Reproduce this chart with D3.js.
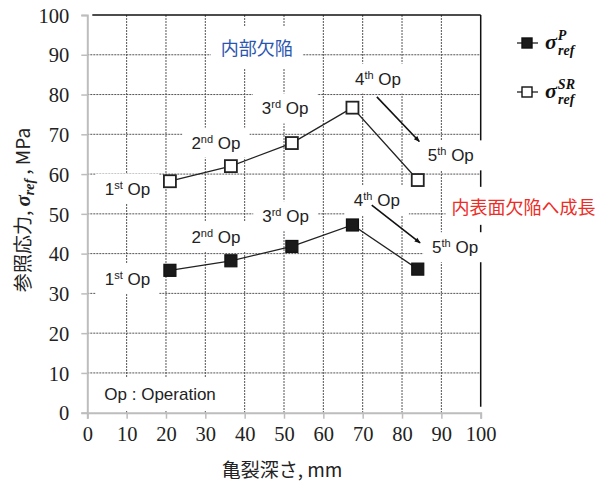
<!DOCTYPE html>
<html>
<head>
<meta charset="utf-8">
<script src="https://cdn.jsdelivr.net/npm/d3@7"></script>
<style>
  html, body { margin: 0; padding: 0; background: #fff; }
  svg { display: block; }
</style>
</head>
<body>
<svg id="chart" width="608" height="485"></svg>
<script>
// Crack depth (mm) at each operation and the two reference stresses (MPa)
const depth    = [21, 36.5, 52, 67.4, 84];
const sigmaP   = [35.8, 38.2, 41.8, 47.2, 36.1];
const sigmaSR  = [58.2, 62.0, 67.8, 76.7, 58.5];
const xTickValues = [0, 10, 20, 30, 40, 50, 60, 70, 80, 90, 100];
const yTickValues = [0, 10, 20, 30, 40, 50, 60, 70, 80, 90, 100];
const opOrdinals = ["1", "2", "3", "4", "5"];
const opSuffixes = ["st", "nd", "rd", "th", "th"];

// Where each operation label sits, in axis units
const srLabelAt = [[10.2, 54.8], [32.7, 66.4], [50.3, 75.0], [73.9, 82.5], [92.4, 63.2]];
const pLabelAt  = [[10.2, 32.1], [32.7, 42.7], [50.4, 47.9], [73.6, 51.9], [93.5, 40.1]];
// Arrows toward the 5th operation, in axis units
const arrows = [
  [[73.6, 79.4], [84.4, 68.2]],
  [[72.3, 52.2], [84.6, 42.7]]
];

const svg = d3.select("#chart");
const x = d3.scaleLinear().domain([0, 100]).range([87.3, 480.7]);
const y = d3.scaleLinear().domain([0, 100]).range([412.7, 15]);

const SANS = "Liberation Sans, Arial, sans-serif";
const SERIF = "Liberation Serif, Times New Roman, serif";
const CJK = "Noto Sans CJK JP, Noto Sans, sans-serif";

// ---- grid ----
const grid = svg.append("g");
grid.selectAll("line.gx").data(xTickValues.filter(v => v > 0 && v < 100)).join("line")
  .attr("x1", d => x(d)).attr("x2", d => x(d))
  .attr("y1", y(100)).attr("y2", y(0))
  .attr("stroke", "#555").attr("stroke-width", 1).attr("stroke-dasharray", "2,1");
grid.selectAll("line.gy").data(yTickValues.filter(v => v > 0 && v < 100)).join("line")
  .attr("y1", d => y(d)).attr("y2", d => y(d))
  .attr("x1", x(0)).attr("x2", x(100))
  .attr("stroke", "#555").attr("stroke-width", 1).attr("stroke-dasharray", "2,1");

// top and right frame (black)
svg.append("line").attr("x1", x(0) + 5).attr("x2", x(100)).attr("y1", y(100)).attr("y2", y(100))
  .attr("stroke", "#111").attr("stroke-width", 1.5);
svg.append("line").attr("x1", x(100)).attr("x2", x(100)).attr("y1", y(100)).attr("y2", y(0) - 6)
  .attr("stroke", "#111").attr("stroke-width", 1.5);

// ---- axes ----
const xAxis = svg.append("g").attr("transform", `translate(0,${y(0)})`)
  .call(d3.axisBottom(x).tickValues(xTickValues).tickSize(6).tickPadding(8).tickFormat(d3.format("d")));
const yAxis = svg.append("g").attr("transform", `translate(${x(0)},0)`)
  .call(d3.axisLeft(y).tickValues(yTickValues).tickSize(6).tickPadding(12).tickFormat(d3.format("d")));
[xAxis, yAxis].forEach(g => {
  g.attr("font-family", null).attr("font-size", null);
  g.select(".domain").attr("stroke", "#bdbdbd").attr("stroke-width", 2);
  g.selectAll(".tick line").attr("stroke", "#bdbdbd").attr("stroke-width", 1.5);
  g.selectAll(".tick text").attr("fill", "#222")
    .attr("font-family", SERIF).attr("font-size", 20.5);
});
yAxis.selectAll(".tick text").attr("dy", "0.35em");

// ---- text boxes with white backing ----
const labelLayer = svg.append("g");

function boxedText(cx, baseline, build, pad) {
  const g = labelLayer.append("g");
  const rect = g.append("rect").attr("fill", "#fff");
  const t = g.append("text").attr("x", cx).attr("y", baseline).attr("text-anchor", "middle");
  build(t);
  const b = t.node().getBBox();
  rect.attr("x", b.x - pad[0]).attr("y", b.y - pad[1])
      .attr("width", b.width + 2 * pad[0]).attr("height", b.height + 2 * pad[1]);
  return g;
}

function opLabel(i, at) {
  boxedText(x(at[0]), y(at[1]), t => {
    t.attr("font-family", SANS).attr("font-size", 17).attr("fill", "#222");
    t.append("tspan").text(opOrdinals[i]);
    t.append("tspan").text(opSuffixes[i]).attr("font-size", 11).attr("dy", "-6");
    t.append("tspan").text(" Op").attr("dy", "6");
  }, [9, 5]);
}
srLabelAt.forEach((at, i) => opLabel(i, at));
pLabelAt.forEach((at, i) => opLabel(i, at));

boxedText(x(43.1), y(89.9), t => {
  t.attr("font-family", CJK).attr("font-size", 18).attr("fill", "#2a55b0").text("内部欠陥");
}, [10, 8]);

boxedText(x(110.9), y(50.0), t => {
  t.attr("font-family", CJK).attr("font-size", 18).attr("fill", "#ee2b24").text("内表面欠陥へ成長");
}, [6, 6]);

boxedText(x(18.5), y(3.2), t => {
  t.attr("font-family", SANS).attr("font-size", 17).attr("fill", "#222").text("Op : Operation");
}, [8, 7]);

// ---- arrows ----
const defs = svg.append("defs");
defs.append("marker").attr("id", "head").attr("viewBox", "0 0 10 10")
  .attr("refX", 9).attr("refY", 5).attr("markerWidth", 9).attr("markerHeight", 6)
  .attr("orient", "auto").attr("markerUnits", "userSpaceOnUse")
  .append("path").attr("d", "M0,1 L10,5 L0,9 Z").attr("fill", "#111");
svg.selectAll("line.arrow").data(arrows).join("line")
  .attr("x1", d => x(d[0][0])).attr("y1", d => y(d[0][1]))
  .attr("x2", d => x(d[1][0])).attr("y2", d => y(d[1][1]))
  .attr("stroke", "#111").attr("stroke-width", 1.6).attr("marker-end", "url(#head)");

// ---- series ----
const line = d3.line().x(d => x(d[0])).y(d => y(d[1]));
const srPts = depth.map((d, i) => [d, sigmaSR[i]]);
const pPts  = depth.map((d, i) => [d, sigmaP[i]]);

svg.append("path").datum(srPts).attr("d", line).attr("fill", "none").attr("stroke", "#222").attr("stroke-width", 1.3);
svg.append("path").datum(pPts).attr("d", line).attr("fill", "none").attr("stroke", "#222").attr("stroke-width", 1.3);

const S = 12;
svg.selectAll("rect.sr").data(srPts).join("rect")
  .attr("x", d => x(d[0]) - S / 2).attr("y", d => y(d[1]) - S / 2)
  .attr("width", S).attr("height", S)
  .attr("fill", "#fff").attr("stroke", "#222").attr("stroke-width", 1.8);
svg.selectAll("rect.p").data(pPts).join("rect")
  .attr("x", d => x(d[0]) - S / 2).attr("y", d => y(d[1]) - S / 2)
  .attr("width", S).attr("height", S)
  .attr("fill", "#1a1a1a").attr("stroke", "#111").attr("stroke-width", 1.2);

// ---- legend ----
function sigmaText(g, xPos, yPos, sup) {
  const t = g.append("text").attr("x", xPos).attr("y", yPos)
    .attr("font-family", SERIF).attr("font-weight", "bold").attr("font-style", "italic")
    .attr("fill", "#111");
  t.append("tspan").text("σ").attr("font-size", 22);
  t.append("tspan").text(sup).attr("font-size", 14).attr("dy", "-9").attr("dx", "1");
  t.append("tspan").text("ref").attr("font-size", 14)
    .attr("x", xPos + 13).attr("dy", "15");
}
const legend = svg.append("g");
[[43, "#1a1a1a", "P"], [92, "#fff", "SR"]].forEach(([ly, fill, sup]) => {
  legend.append("line").attr("x1", 517).attr("x2", 538).attr("y1", ly).attr("y2", ly)
    .attr("stroke", "#222").attr("stroke-width", 1.3);
  legend.append("rect").attr("x", 522).attr("y", ly - 5).attr("width", 10).attr("height", 10)
    .attr("fill", fill).attr("stroke", "#111").attr("stroke-width", 1.4);
  sigmaText(legend, 545, ly + 6, sup);
});

// ---- axis titles ----
svg.append("text").attr("x", 282).attr("y", 477)
  .attr("text-anchor", "middle").attr("fill", "#222")
  .attr("font-family", CJK).attr("font-size", 19)
  .text("亀裂深さ, mm");

const yt = svg.append("text")
  .attr("transform", `translate(30,210) rotate(-90)`)
  .attr("text-anchor", "middle").attr("fill", "#222")
  .attr("font-family", CJK).attr("font-size", 19);
yt.append("tspan").text("参照応力, ");
yt.append("tspan").text("σ").attr("font-family", SERIF).attr("font-weight", "bold").attr("font-style", "italic").attr("font-size", 21);
yt.append("tspan").text("ref").attr("font-family", SERIF).attr("font-weight", "bold").attr("font-style", "italic").attr("font-size", 14).attr("dy", "4");
yt.append("tspan").text(" , MPa").attr("dy", "-4");
</script>
</body>
</html>
